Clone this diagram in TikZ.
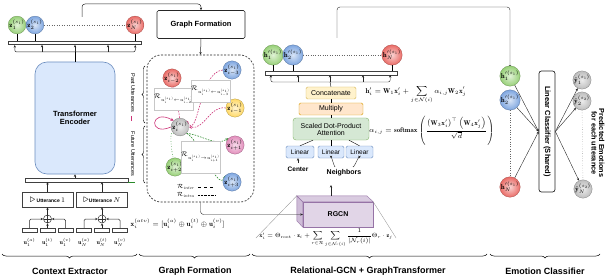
\RequirePackage{fix-cm}
\documentclass[tikz,border=0pt]{standalone}
\usepackage{amsmath,amssymb}
\usepackage{fontspec}
\newfontfamily\labfont{Liberation Sans}
\usetikzlibrary{arrows.meta,calc,positioning,decorations.pathreplacing}
\pgfdeclarelayer{bg}
\pgfsetlayers{bg,main}
\DeclareMathSizes{5}{5}{3.5}{2.5}
\DeclareMathSizes{6}{6}{4.2}{3}
\DeclareMathSizes{7}{7}{4.9}{3.5}
\definecolor{cG}{HTML}{97D077}
\definecolor{cB}{HTML}{7EA6E0}
\definecolor{cR}{HTML}{EA6B66}
\definecolor{cY}{HTML}{FFD966}
\definecolor{cP}{HTML}{E28DBB}
\definecolor{cGr}{HTML}{BDBDBD}
\definecolor{encF}{HTML}{DAE8FC}
\definecolor{encD}{HTML}{6C8EBF}
\definecolor{catF}{HTML}{FFF2CC}
\definecolor{catD}{HTML}{D6B656}
\definecolor{mulF}{HTML}{FFE6CC}
\definecolor{mulD}{HTML}{D79B00}
\definecolor{attF}{HTML}{D5E8D4}
\definecolor{attD}{HTML}{82B366}
\definecolor{rgF}{HTML}{E1D5E7}
\definecolor{rgD}{HTML}{9673A6}
\definecolor{ePk}{HTML}{CC3377}
\definecolor{eGn}{HTML}{2A8A2A}
\newcommand{\sz}[1]{\fontsize{#1}{#1}\selectfont}

\begin{document}
\begin{tikzpicture}[x=1pt,y=-1pt,line width=0.5pt,
  ball/.style={circle,inner color=#1!30!white,outer color=#1,draw=#1!70!black,line width=0.3pt,minimum size=17pt,inner sep=0pt,font=\sz{7}},
  bar/.style={draw=black!75,fill=white,minimum height=3.5pt,inner sep=0pt},
  ibar/.style={draw=black!75,fill=white,minimum width=15pt,minimum height=4pt,inner sep=0pt},
  ar/.style={-{Stealth[length=2.6pt,width=2.4pt]},draw=black!85},
  enc/.style={draw=encD,fill=encF,line width=0.6pt,rounded corners=12pt,minimum width=80pt,minimum height=112pt,align=center,font=\labfont\bfseries\sz{7.5}},
  utt/.style={draw=black!75,fill=white,minimum width=51pt,minimum height=15pt,inner sep=1pt,font=\labfont\bfseries\sz{5}},
  oplus/.style={circle,draw=black!80,minimum size=8pt,inner sep=0pt,
    path picture={\draw (path picture bounding box.north) -- (path picture bounding box.south)
      (path picture bounding box.west) -- (path picture bounding box.east);}},
  gfbox/.style={draw=black!85,fill=white,line width=0.7pt,rounded corners=1.5pt,minimum width=88pt,minimum height=28pt,font=\labfont\bfseries\sz{7.5}},
  region/.style={draw=black!85,dash pattern=on 2pt off 1.5pt,line width=0.6pt,rounded corners=14pt,minimum width=107pt,minimum height=147pt},
  rbox/.style={draw=black!22,fill=white,minimum width=33pt,minimum height=22pt,inner sep=0pt,font=\sz{6.5}},
  inter/.style={draw=ePk,dash pattern=on 1.6pt off 1.2pt,line width=0.6pt,-{Stealth[length=3pt,width=3pt]}},
  intra/.style={draw=eGn,dash pattern=on 1.6pt off 1.2pt,line width=0.6pt,-{Stealth[length=3pt,width=3pt]}},
  side/.style={rotate=-90,font=\labfont\sz{5.5}},
  catbox/.style={draw=catD,fill=catF,rounded corners=1.5pt,minimum width=50pt,minimum height=12pt,inner sep=0pt,font=\labfont\sz{7}},
  mulbox/.style={draw=mulD,fill=mulF,rounded corners=1.5pt,minimum width=64pt,minimum height=12pt,inner sep=0pt,font=\labfont\sz{7}},
  attbox/.style={draw=attD,fill=attF,rounded corners=3pt,minimum width=76pt,minimum height=22pt,inner sep=0pt,align=center,font=\labfont\sz{7}},
  linbox/.style={draw=encD,fill=encF,rounded corners=1.5pt,minimum height=12pt,inner sep=0pt,font=\labfont\sz{6.5}},
  rgbox/.style={draw=rgD,fill=rgF,minimum width=70pt,minimum height=25pt,inner sep=0pt,font=\labfont\bfseries\sz{7}},
  lcbox/.style={draw=black!85,fill=white,line width=0.7pt,rounded corners=2.5pt,minimum width=121pt,minimum height=16pt,inner sep=0pt,font=\labfont\bfseries\sz{7.5}},
  sec/.style={font=\labfont\bfseries\sz{9}},
  brace/.style={decorate,decoration={brace,amplitude=4pt,mirror},line width=0.5pt}]

\useasboundingbox (0,0) rectangle (611,278);

% ---------- context extractor ----------
\node[ball=cG] (z1) at (17,25) {$\mathbf{z}_1^{(s_1)}$};
\node[ball=cB] (z2) at (35,25) {$\mathbf{z}_2^{(s_1)}$};
\node[ball=cR] (zN) at (135,25) {$\mathbf{z}_N^{(s_1)}$};
\draw[dotted,draw=black!60] (z2) -- (zN);
\node[bar,minimum width=133pt] (barA) at (74.5,43) {};
\foreach \n in {z1,z2,zN} \draw (\n.south) -- (\n.south |- barA.north);
\coordinate (brA) at (75,52);
\draw[ar,rounded corners=2pt] (brA) -| ([xshift=7pt]barA.south west);
\draw[ar,rounded corners=2pt] (brA) -| ([xshift=-6pt]barA.south east);
\foreach \dx in {-33,0,33} \draw[ar] ($(brA)+(\dx,0)$) -- ++(0,-7.2);

\node[enc] (enc) at (75,118) {Transformer\\Encoder};
\draw (enc.north) -- (brA);
\node[bar,minimum width=103pt] (barB) at (76.5,180) {};
\draw[ar] (barB.north -| enc.south) -- (enc.south);
\draw[draw=eGn,line width=0.6pt] (barB.south east) -- ++(7,0);

\node[utt] (utt1) at (47.5,199.5) {{\sz{11}$\triangleright$} Utterance {\sz{7}$1$}};
\node[utt] (uttN) at (102,199.5) {{\sz{11}$\triangleright$}Utterance {\sz{7}$N$}};
\draw[ar] (utt1.north) -- (utt1.north |- barB.south);
\draw[ar] (uttN.north) -- (uttN.north |- barB.south);

% utterance features a, t, v fused by concatenation
\foreach \k/\c in {1/47.5,N/102}{
  \node[oplus] (p\k) at (\c,219) {};
  \node[ibar] (ua\k) at (\c-18,230) {};
  \node[ibar] (ut\k) at (\c,230) {};
  \node[ibar] (uv\k) at (\c+18,230) {};
  \node[font=\sz{6}] (lua\k) at (\c-18,242) {$\mathbf{u}_{\k}^{(a)}$};
  \node[font=\sz{6}] (lut\k) at (\c,242) {$\mathbf{u}_{\k}^{(t)}$};
  \node[font=\sz{6}] (luv\k) at (\c+18,242) {$\mathbf{u}_{\k}^{(v)}$};
  \draw[ar,rounded corners=1.5pt] (ua\k.north) |- (p\k.west);
  \draw[ar] (ut\k.north) -- (p\k.south);
  \draw[ar,rounded corners=1.5pt] (uv\k.north) |- (p\k.east);
  \draw[ar] (p\k.north) -- (utt\k.south);
}
\node[anchor=west,font=\sz{7}] (xatv) at (127,224)
  {$\mathbf{x}_i^{(atv)}=[\mathbf{u}_i^{(a)}\oplus\mathbf{u}_i^{(t)}\oplus\mathbf{u}_i^{(v)}]$};

\draw[brace] (2,254) -- (137,254);
\node[sec] (lcx) at (70,271) {Context Extractor};

% ---------- graph formation ----------
\coordinate (tapA) at (82,17);
\node[gfbox] (gf) at (201,24.5) {Graph Formation};
\draw[ar,rounded corners=3pt] (tapA) -- ++(0,-13) -| (gf.north);
\node[region] (grph) at (200.5,128.5) {};
\draw[ar] (gf.south) -- (grph.north);

\node[ball=cR] (zim2) at (172,78) {$\mathbf{z}_{i-2}^{(s_1)}$};
\node[ball=cB] (zim3) at (232,70) {$\mathbf{z}_{i-3}^{(s_1)}$};
\node[ball=cY] (zim1) at (235,108) {$\mathbf{z}_{i-1}^{(s_1)}$};
\node[ball=cGr] (zi) at (180,127) {$\mathbf{z}_{i}^{(s_1)}$};
\node[ball=cP] (zip1) at (235,145) {$\mathbf{z}_{i+1}^{(s_1)}$};
\node[ball=cG] (zip2) at (175,167) {$\mathbf{z}_{i+2}^{(s_1)}$};
\node[ball=cB] (zip3) at (232,182) {$\mathbf{z}_{i+3}^{(s_1)}$};

\node[rbox] (rb1) at (173.5,99) {$\mathcal{R}_{u_i^{(s_1)}\leftarrow u_{i-2}^{(s_1)}}$};
\node[rbox] (rb2) at (210.5,91) {$\mathcal{R}_{u_i^{(s_1)}\leftarrow u_{i-3}^{(s_1)}}$};
\node[rbox,minimum height=32pt] (rb3) at (200.5,157) {$\mathcal{R}_{u_i^{(s_1)}\rightarrow u_{i+1}^{(s_1)}}$};

\begin{pgfonlayer}{bg}
\draw[inter] (zim2.south) to[out=80,in=-85] (zi.north);
\draw[inter] (zim3.west) to[out=185,in=-60] (zi.north east);
\draw[inter] (zim1.west) to[out=170,in=-10] (zi.east);
\draw[inter,solid] (zi.west) .. controls (148,137) and (150,108) .. (zi.north west);
\draw[intra] (zi.south east) to[out=-5,in=-150] (zip1.north west);
\draw[intra,dotted] (zi.south west) to[out=130,in=-100] (zip2.north);
\draw[intra] (zi.south) to[out=60,in=-110] (zip3.north west);
\end{pgfonlayer}

\node[font=\sz{6},anchor=east] (linter) at (198,187) {$\mathcal{R}_{\mathit{inter}}$};
\draw[dashed] (linter.east) -- ++(18,0);
\node[font=\sz{6},anchor=east] (lintra) at (198,195) {$\mathcal{R}_{\mathit{intra}}$};
\draw[densely dotted] (lintra.east) -- ++(18,0);

\draw[decorate,decoration={brace,amplitude=3pt}] (145,123) -- (145,66);
\draw[decorate,decoration={brace,amplitude=3pt}] (145,183) -- (145,126);
\node[side] (past) at (133,93) {Past Utterances};
\node[side] (fut) at (133,154) {Future Utterances};
\draw[draw=ePk,line width=0.8pt] (131,116) -- (131,121);

\draw[brace] (139,254) -- (250,254);
\node[sec] (lgf) at (195,271) {Graph Formation};

% ---------- relational gcn + graph transformer ----------
\node[ball=cG] (hp1) at (273,55) {$\mathbf{h}_1^{\prime(s_1)}$};
\node[ball=cB] (hp2) at (293,55) {$\mathbf{h}_2^{\prime(s_1)}$};
\node[ball=cR] (hpN) at (392,55) {$\mathbf{h}_N^{\prime(s_1)}$};
\draw[dotted,draw=black!60] (hp2) -- (hpN);
\node[bar,minimum width=132pt] (barC) at (331,73) {};
\foreach \n in {hp1,hp2,hpN} \draw (\n.south) -- (\n.south |- barC.north);
\coordinate (brB) at (330,82);
\draw[ar,rounded corners=2pt] (brB) -| ([xshift=6pt]barC.south west);
\draw[ar,rounded corners=2pt] (brB) -| ([xshift=-7pt]barC.south east);
\foreach \dx in {-32,0,33} \draw[ar] ($(brB)+(\dx,0)$) -- ++(0,-7);

\node[catbox] (cat) at (331,93) {Concatenate};
\node[mulbox] (mul) at (331,109) {Multiply};
\node[attbox] (att) at (331,129) {Scaled Dot-Product\\Attention};
\node[linbox,minimum width=28pt] (lin1) at (300,152) {Linear};
\node[linbox,minimum width=26pt] (lin2) at (331,152) {Linear};
\node[linbox,minimum width=27pt] (lin3) at (359.5,152) {Linear};
\draw (cat.north) -- (brB);
\draw (mul.north) -- (cat.south);
\draw (att.north) -- (mul.south);
\draw (lin1.north) -- ([xshift=-18pt]att.south);
\draw (lin2.north) -- (att.south);
\draw (lin3.north) -- ([xshift=18pt]att.south);

\node[font=\labfont\bfseries\sz{6.5}] (ctr) at (298,169) {Center};
\node[font=\labfont\bfseries\sz{7}] (nbr) at (344,173) {Neighbors};
\draw[ar] (ctr.north) -- (ctr.north |- lin1.south);
\draw[ar] ([xshift=-9pt]nbr.north) to[out=-90,in=90] (lin2.south);
\draw[ar] ([xshift=9pt]nbr.north) to[out=-90,in=90] (lin3.south);

\node[rgbox] (rgcn) at (338,214.5) {RGCN};
\filldraw[fill=rgF!75!rgD,draw=rgD] (rgcn.north west) -- ++(-6,-6) -- ++(0,25) -- (rgcn.south west) -- cycle;
\filldraw[fill=rgF!90!rgD,draw=rgD] (rgcn.north west) -- ++(-6,-6) -- ++(70,0) -- (rgcn.north east) -- cycle;
\coordinate (rgOut) at (331,185);
\draw[ar] ($(rgcn.north)+(-7,-6)$) -- (rgOut);
\draw[ar,rounded corners=3pt] (grph.south) |- (rgcn.west);

\node[font=\sz{6}] (xform) at (326,238)
  {$\mathbf{x}'_i=\Theta_{\mathrm{root}}\cdot\mathbf{z}_i+\displaystyle\sum_{r\in\mathcal{R}}\sum_{j\in\mathcal{N}_r(i)}\frac{1}{|\mathcal{N}_r(i)|}\Theta_r\cdot\mathbf{z}_j$};
\draw[draw=black!45,line width=0.3pt] ($(rgcn.north west)+(-6,-6)$) -- (xform.west);
\draw[draw=black!45,line width=0.3pt] (rgcn.north east) -- (xform.east);

\node[anchor=west,font=\sz{7}] (hform) at (362,95)
  {$\mathbf{h}'_i=\mathbf{W}_1\mathbf{x}'_i+\displaystyle\sum_{j\in\mathcal{N}(i)}\alpha_{i,j}\mathbf{W}_2\mathbf{x}'_j$};
\node[anchor=west,font=\sz{6.8},inner sep=0pt] (aform) at (369,131)
  {$\alpha_{i,j}=\mathbf{softmax}\left(\rule[-13pt]{0pt}{28pt}\dfrac{\left(\mathbf{W}_3\mathbf{x}'_i\right)^{\top}\left(\mathbf{W}_4\mathbf{x}'_j\right)}{\sqrt{d}}\right)$};

\coordinate (tapB) at (337,38);
\draw[ar,rounded corners=3pt] (tapB) -- ++(0,-31) -| (510,67.5);

\draw[brace] (252,254) -- (487,254);
\node[sec] (lrg) at (368,271) {Relational-GCN + GraphTransformer};

% ---------- emotion classifier ----------
\node[ball=cG] (eh1) at (510,76) {$\mathbf{h}_1^{\prime(s_1)}$};
\node[ball=cB] (eh2) at (510,100) {$\mathbf{h}_2^{\prime(s_1)}$};
\node[ball=cR] (ehN) at (510,187) {$\mathbf{h}_N^{\prime(s_1)}$};
\draw[dotted,draw=black!60] (eh2) -- (ehN);
\node[lcbox,rotate=-90] (lc) at (547,131.5) {Linear Classifier (Shared)};
\foreach \n in {eh1,eh2,ehN} \draw[ar] (\n) -- (lc.south);

\node[ball=cGr] (y1) at (582,80) {$\hat{\mathbf{y}}_1^{(s_1)}$};
\node[ball=cGr] (y2) at (582,101) {$\hat{\mathbf{y}}_2^{(s_2)}$};
\node[ball=cGr] (yN) at (583,189) {$\hat{\mathbf{y}}_N^{(s_2)}$};
\draw[dotted,draw=black!60] (y2) -- (yN);
\foreach \n in {y1,y2,yN} \draw[ar] (lc.north) -- (\n);
\node[rotate=-90,align=center,font=\labfont\bfseries\sz{7.3}] (pred) at (598,143) {Predicted Emotions\\for each utterance};

\draw[brace] (490,254) -- (600,254);
\node[sec] (lec) at (545,271) {Emotion Classifier};
\end{tikzpicture}
\end{document}
